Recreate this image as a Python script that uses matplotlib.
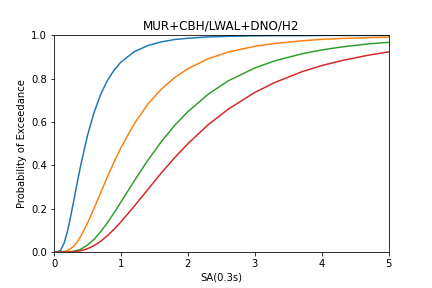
import numpy as np
import matplotlib
matplotlib.use("Agg")
import matplotlib.pyplot as plt

# ------------------------------------------------------------
# Data
# ------------------------------------------------------------
sa = [0.0, 0.05, 0.1, 0.15, 0.2, 0.25, 0.3, 0.35, 0.4, 0.5, 0.6, 0.7, 0.8,
      0.9, 1.0, 1.2, 1.4, 1.6, 1.8, 2.0, 2.3, 2.6, 3.0, 3.3, 3.7, 4.0,
      4.3, 4.7, 5.0]

p_blue = [0.0, 0.0003, 0.009, 0.040, 0.094, 0.166, 0.245, 0.325, 0.402,
          0.538, 0.646, 0.730, 0.793, 0.841, 0.877, 0.925, 0.953, 0.970,
          0.981, 0.987, 0.993, 0.996, 0.998, 0.999, 0.999, 1.0, 1.0, 1.0,
          1.0]
p_orange = [0.0, 0.0, 0.0002, 0.0015, 0.006, 0.015, 0.029, 0.048, 0.073,
            0.133, 0.203, 0.276, 0.349, 0.418, 0.482, 0.593, 0.682, 0.751,
            0.805, 0.846, 0.892, 0.923, 0.950, 0.963, 0.975, 0.982, 0.986,
            0.990, 0.992]
p_green = [0.0, 0.0, 0.0, 0.0, 0.0004, 0.0015, 0.004, 0.0075, 0.013, 0.032,
           0.059, 0.095, 0.136, 0.182, 0.231, 0.329, 0.423, 0.508, 0.584,
           0.648, 0.728, 0.790, 0.850, 0.883, 0.915, 0.933, 0.947, 0.961,
           0.968]
p_red = [0.0, 0.0, 0.0, 0.0, 0.0, 0.0, 0.0015, 0.003, 0.006, 0.015, 0.030,
         0.050, 0.076, 0.106, 0.139, 0.212, 0.288, 0.364, 0.435, 0.500,
         0.587, 0.659, 0.737, 0.783, 0.832, 0.861, 0.884, 0.909, 0.924]

curves = [p_blue, p_orange, p_green, p_red]

# ------------------------------------------------------------
# Plot
# ------------------------------------------------------------
fig = plt.figure(figsize=(6, 4), dpi=72)
ax = fig.add_axes([0.125, 0.125, 0.775, 0.752])

for p in curves:
    ax.plot(sa, p)

ax.set_xlim(0, 5)
ax.set_ylim(0, 1)
ax.set_xlabel('SA(0.3s)')
ax.set_ylabel('Probability of Exceedance')
ax.set_title('MUR+CBH/LWAL+DNO/H2')

fig.savefig('out.png', dpi=72)
